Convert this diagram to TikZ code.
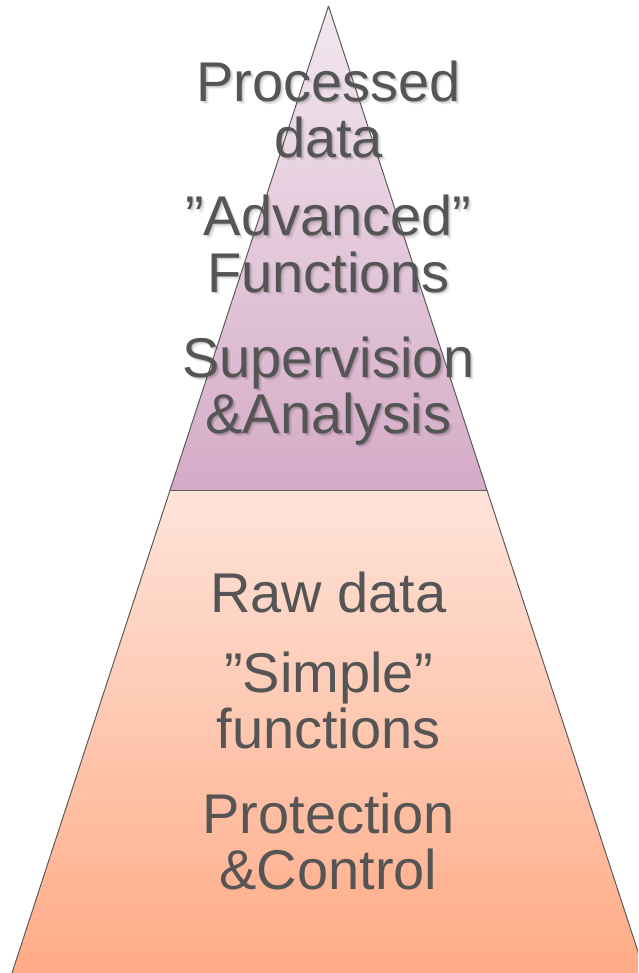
\documentclass[tikz,border=0pt]{standalone}
\usepackage{fontspec}
\setmainfont{Liberation Sans}
\usetikzlibrary{positioning}
\definecolor{pyrink}{HTML}{555555}
\definecolor{pyredge}{HTML}{5E5A5C}
\definecolor{topfrom}{HTML}{F2E7EF}
\definecolor{topto}{HTML}{D5ABC7}
\definecolor{lowfrom}{HTML}{FEE3D9}
\definecolor{lowto}{HTML}{FFAB86}

\begin{document}
\begin{tikzpicture}[x=1pt,y=-1pt,line join=round,
  label/.style={text=pyrink,align=center,inner sep=0pt,anchor=base,
    font=\fontsize{56}{56}\selectfont},
  shadowtext/.style={label,text=black,opacity=.22}]
\path[use as bounding box] (0,0) rectangle (638,973);
\fill[white] (0,0) rectangle (638,973);
\begin{scope}
\clip (0,0) rectangle (638,973);
\coordinate (apex) at (328.5,6);
\coordinate (midl) at (170,490);
\coordinate (midr) at (487,490);
\coordinate (basel) at (12,973);
\coordinate (baser) at (645,973);
% upper band (purple) and lower band (peach)
\shade[top color=topfrom,bottom color=topto] (apex)--(midr)--(midl)--cycle;
\shade[top color=lowfrom,bottom color=lowto] (midl)--(midr)--(baser)--(basel)--cycle;
% outline and divider
\draw[pyredge,line width=1pt] (apex)--(baser) (apex)--(basel);
\draw[pyredge,line width=1pt] (midl)--(midr);
% upper labels, with a soft drop shadow (base = last line)
\foreach \dx/\dy/\op in {3/3/.06,2/2/.08,1/1/.10}{
  \node[shadowtext,opacity=\op] at (328.5+\dx,158+\dy) {Processed\\data};
  \node[shadowtext,opacity=\op] at (328.5+\dx,292+\dy) {”Advanced”\\Functions};
  \node[shadowtext,opacity=\op] at (328.5+\dx,433+\dy) {Supervision\\\&Analysis};
}
\node[label] (processed) at (328.5,158) {Processed\\data};
\node[label] (advanced) at (328.5,292) {”Advanced”\\Functions};
\node[label] (supervision) at (328.5,433) {Supervision\\\&Analysis};
% lower labels
\node[label] (raw) at (328.5,612) {Raw data};
\node[label] (simple) at (328.5,748) {”Simple”\\functions};
\node[label] (protection) at (328.5,889) {Protection\\\&Control};
\end{scope}
\end{tikzpicture}
\end{document}
